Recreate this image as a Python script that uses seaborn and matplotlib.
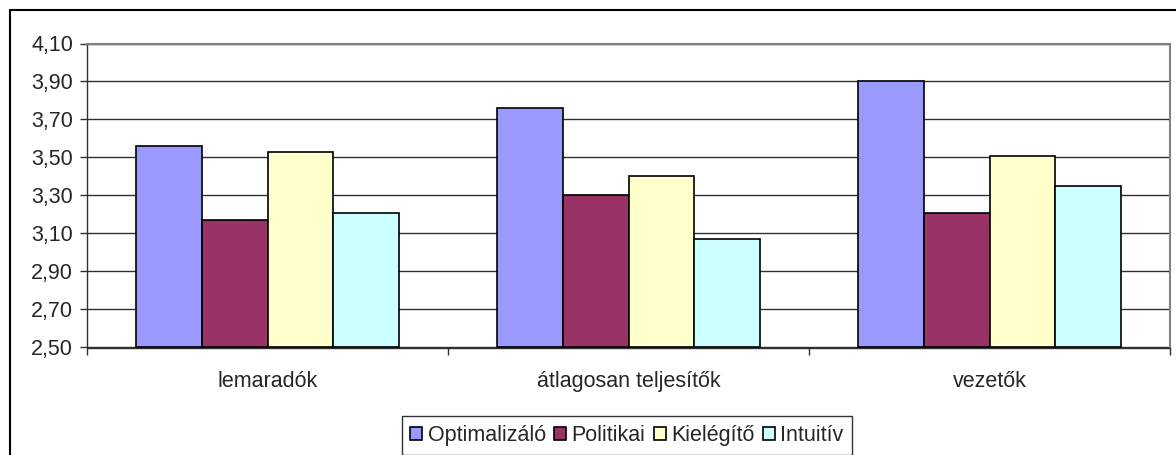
import numpy as np
import pandas as pd
import seaborn as sns
import matplotlib.pyplot as plt
from matplotlib.ticker import FixedLocator, FuncFormatter
from matplotlib.lines import Line2D

categories = ['lemaradók', 'átlagosan teljesítők', 'vezetők']
series = ['Optimalizáló', 'Politikai', 'Kielégítő', 'Intuitív']
optimalizalo = [3.56, 3.76, 3.90]
politikai = [3.17, 3.30, 3.21]
kielegito = [3.53, 3.40, 3.51]
intuitiv = [3.21, 3.07, 3.35]
colors = ['#9999FF', '#993366', '#FFFFCC', '#CCFFFF']
yticks = [2.50, 2.70, 2.90, 3.10, 3.30, 3.50, 3.70, 3.90, 4.10]

df = pd.DataFrame({
    'kategoria': np.repeat(categories, 4),
    'tipus': series * 3,
    'ertek': np.array([optimalizalo, politikai, kielegito, intuitiv]).T.ravel(),
})

sns.set_style('white')
plt.rcParams['font.family'] = ['Liberation Sans', 'DejaVu Sans']
fs = 15.5

W, H = 1176, 455
fig = plt.figure(figsize=(W / 100, H / 100), dpi=100)
ax = fig.add_axes([87 / W, 1 - 347.5 / H, (1170 - 87) / W, (347.5 - 43.5) / H])

sns.barplot(data=df, x='kategoria', y='ertek', hue='tipus', hue_order=series,
            palette=colors, width=0.729, edgecolor='black', linewidth=1.2,
            saturation=1, ax=ax, legend=True)

# bars start from the axis bottom, not from zero
for bar in ax.patches:
    h = bar.get_height()
    if h > 0:
        bar.set_y(2.5)
        bar.set_height(h - 2.5)

ax.set_ylim(2.5, 4.1)
ax.set_xlim(-0.5, 2.5)
ax.yaxis.set_major_locator(FixedLocator(yticks))
ax.yaxis.set_major_formatter(FuncFormatter(lambda v, p: f'{v:.2f}'.replace('.', ',')))
ax.yaxis.grid(True, color='#303030', linewidth=1)
ax.set_axisbelow(True)
ax.set_xlabel('')
ax.set_ylabel('')

ax.xaxis.set_minor_locator(FixedLocator([-0.5, 0.5, 1.5, 2.5]))
ax.tick_params(axis='x', which='major', length=0, pad=17, labelsize=fs)
ax.tick_params(axis='x', which='minor', length=5, width=1, color='#303030', bottom=True)
ax.tick_params(axis='y', length=5, width=1, color='#303030', left=True, pad=5, labelsize=fs)

for side in ['top', 'right']:
    ax.spines[side].set_color('#808080')
    ax.spines[side].set_linewidth(1.5)
for side in ['left', 'bottom']:
    ax.spines[side].set_color('#303030')
    ax.spines[side].set_linewidth(1)

handles, labels = ax.get_legend_handles_labels()
ax.legend_.remove()
leg = fig.legend(handles, labels, loc='center', bbox_to_anchor=(627 / W, 1 - 435.5 / H),
                 ncol=4, frameon=True, fancybox=False, edgecolor='black',
                 handlelength=0.55, handleheight=0.55, handletextpad=0.25,
                 columnspacing=0.4, borderpad=0.4, borderaxespad=0, fontsize=fs)
leg.get_frame().set_linewidth(1)

# outer chart border (only top and left fall inside the picture)
fig.lines.append(Line2D([10 / W, 1], [1 - 10 / H, 1 - 10 / H], transform=fig.transFigure,
                        color='black', linewidth=1.5))
fig.lines.append(Line2D([10 / W, 10 / W], [0, 1 - 10 / H], transform=fig.transFigure,
                        color='black', linewidth=1.5))

fig.savefig('out.png', dpi=100)
